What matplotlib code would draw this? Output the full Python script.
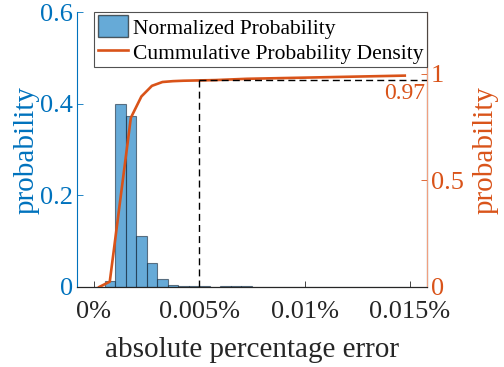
import numpy as np
import matplotlib.pyplot as plt
from matplotlib.patches import Patch
from matplotlib.lines import Line2D

plt.rcParams['font.family'] = ['Liberation Serif', 'DejaVu Serif']
plt.rcParams['mathtext.fontset'] = 'stix'

BLUE = '#0072BD'
ORANGE = '#D95319'

# histogram bins (absolute percentage error, in %), width 0.0005
bin_edges = [0.0005 * i for i in range(31)]
bin_prob = [0.0, 0.014, 0.400, 0.374, 0.111, 0.052, 0.017, 0.004, 0.003,
             0.002, 0.002, 0.001, 0.002, 0.002, 0.002, 0.001, 0.001, 0.001,
             0.001, 0.001, 0.001, 0.001, 0.001, 0.001, 0.001, 0.001, 0.001,
             0.001, 0.0005, 0.0005]

# cumulative curve, evaluated at bin centres
cdf_x = [0.00025, 0.00075, 0.00125, 0.00175, 0.00225, 0.00275, 0.00325,
         0.00375, 0.00425, 0.00475, 0.00525, 0.00575, 0.00625, 0.00675,
         0.00725, 0.00775, 0.00825, 0.00875, 0.00925, 0.00975, 0.01025,
         0.01075, 0.01125, 0.01175, 0.01225, 0.01275, 0.01325, 0.01375,
         0.01425, 0.01475]
cdf_y = [0.0, 0.025, 0.41, 0.794, 0.894, 0.944, 0.962, 0.966, 0.968, 0.969,
         0.970, 0.971, 0.973, 0.975, 0.977, 0.978, 0.979, 0.980, 0.981, 0.982,
         0.983, 0.984, 0.985, 0.986, 0.987, 0.988, 0.989, 0.990, 0.991, 0.992]

threshold_x = 0.005
threshold_p = 0.97

fig = plt.figure(figsize=(5.04, 3.67), dpi=100)
ax = fig.add_axes([0.153, 0.218, 0.694, 0.749])
ax2 = ax.twinx()

ax.hist(bin_edges[:-1], bins=bin_edges, weights=bin_prob,
        color=BLUE, alpha=0.6, edgecolor='#1a2a3a', linewidth=0.8)
ax.set_xlim(-0.0008, 0.0158)
ax.set_ylim(0, 0.6)
ax.set_yticks([0, 0.2, 0.4, 0.6])
ax.set_yticklabels(['0', '0.2', '0.4', '0.6'])
ax.set_xticks([0, 0.005, 0.01, 0.015])
ax.set_xticklabels(['0%', '0.005%', '0.01%', '0.015%'])
ax.set_ylabel('probability', color=BLUE, fontsize=21, labelpad=0)
ax.set_xlabel('absolute percentage error', color='#262626', fontsize=21, labelpad=10)

ax2.plot(cdf_x, cdf_y, color=ORANGE, linewidth=1.9)
ax2.plot([threshold_x, threshold_x], [0, threshold_p], '--', color='black', linewidth=1,
         dashes=(5, 3))
ax2.plot([threshold_x, 0.0158], [threshold_p, threshold_p], '--', color='black', linewidth=1,
         dashes=(5, 3))
ax2.text(0.0157, threshold_p - 0.012, '0.97', color=ORANGE, fontsize=17,
         ha='right', va='top')
ax2.set_ylim(0, 1.29)
ax2.set_yticks([0, 0.5, 1])
ax2.set_yticklabels(['0', '0.5', '1'])
ax2.set_ylabel('probability', color=ORANGE, fontsize=21, labelpad=6)

for a in (ax, ax2):
    a.spines['top'].set_visible(False)
    a.tick_params(direction='in', labelsize=19, length=4, width=0.6)
ax.tick_params(axis='y', colors=BLUE, pad=3)
ax.tick_params(axis='x', colors='#262626', pad=10)
ax2.tick_params(axis='y', colors=ORANGE, pad=3)
ax.spines['left'].set_color(BLUE)
ax2.spines['left'].set_visible(False)
ax2.spines['right'].set_color('#f0a080')
ax2.spines['bottom'].set_color('#262626')

handles = [Patch(facecolor=BLUE, alpha=0.6, edgecolor='black'),
           Line2D([], [], color=ORANGE, linewidth=1.9)]
leg = ax2.legend(handles, ['Normalized Probability', 'Cummulative Probability Density'],
                 loc='upper right', bbox_to_anchor=(1.0, 1.0), fontsize=15.5,
                 frameon=True, fancybox=False, edgecolor='#262626',
                 borderpad=0.15, handlelength=1.4, handleheight=1.2,
                 handletextpad=0.25, labelspacing=0.1, borderaxespad=0.0)
leg.get_frame().set_linewidth(0.8)

fig.savefig('out.png', dpi=100)
